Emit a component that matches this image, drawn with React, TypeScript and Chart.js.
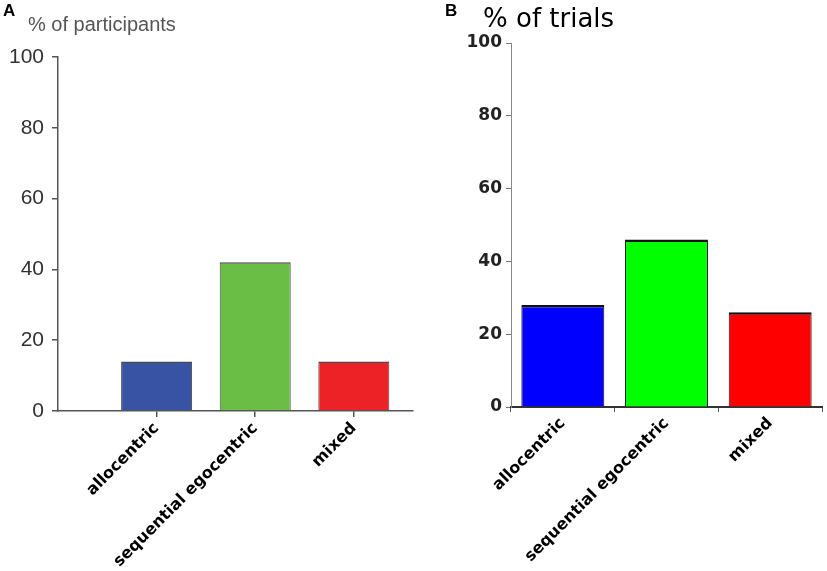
import React, { useEffect, useRef } from "react";
import { Chart, registerables } from "chart.js";

Chart.register(...registerables);

// ---- data ----
const categories = ["allocentric", "sequential egocentric", "mixed"];
const participantsPct = [14, 42, 14];
const trialsPct = [28, 46, 26];
const yTicks = [0, 20, 40, 60, 80, 100];
const colorsA = ["#3953a4", "#6abd45", "#ec2227"];
const colorsB = ["#0000ff", "#00ff00", "#ff0000"];
const titleA = "% of participants";
const titleB = "% of trials";
const panelA = "A";
const panelB = "B";

const W_A = 415;
const W_B = 412;
const H = 571;

function textPlugin(items: { text: string; x: number; y: number; font: string; color: string }[]) {
  return {
    id: "texts",
    afterDraw(chart: any) {
      const ctx = chart.ctx;
      ctx.save();
      ctx.textBaseline = "alphabetic";
      ctx.textAlign = "left";
      for (const it of items) {
        ctx.font = it.font;
        ctx.fillStyle = it.color;
        ctx.fillText(it.text, it.x, it.y);
      }
      ctx.restore();
    },
  };
}

export default function App() {
  const refA = useRef<HTMLCanvasElement>(null);
  const refB = useRef<HTMLCanvasElement>(null);

  useEffect(() => {
    document.body.style.margin = "0";
    const labelFont = { family: "'DejaVu Sans', sans-serif", size: 16, weight: "bold" as const };

    const chartA = new Chart(refA.current!, {
      type: "bar",
      data: {
        datasets: [
          {
            data: participantsPct.map((v, i) => ({ x: i + 1, y: v })),
            backgroundColor: colorsA,
            borderColor: "#4a4a4a",
            borderWidth: { top: 1.5, left: 1, right: 1, bottom: 0 },
            borderSkipped: false,
            categoryPercentage: 1,
            barPercentage: 0.72,
          },
        ],
      },
      options: {
        animation: false,
        responsive: false,
        layout: { padding: { top: 57, right: 2, left: 0, bottom: 0 } },
        plugins: { legend: { display: false }, tooltip: { enabled: false }, title: { display: false } },
        scales: {
          x: {
            type: "linear",
            min: 0,
            max: 3.6,
            offset: false,
            afterBuildTicks: (axis: any) => {
              axis.ticks = categories.map((_, i) => ({ value: i + 1 }));
            },
            afterFit: (scale: any) => {
              scale.height = 160;
            },
            ticks: {
              autoSkip: false,
              minRotation: 45,
              maxRotation: 45,
              color: "#000",
              font: labelFont,
              padding: 2,
              callback: (v: any) => categories[Math.round(Number(v)) - 1] ?? "",
            },
            grid: { display: true, drawOnChartArea: false, drawTicks: true, tickLength: 6, color: "#555", offset: false, lineWidth: 1.5 },
            border: { display: true, color: "#555", width: 1.5 },
          },
          y: {
            min: 0,
            max: 100,
            afterBuildTicks: (axis: any) => {
              axis.ticks = yTicks.map((v) => ({ value: v }));
            },
            afterFit: (scale: any) => {
              scale.width = 58;
            },
            ticks: {
              color: "#333",
              font: { family: "'Liberation Sans', Arial, sans-serif", size: 21 },
              padding: 8,
            },
            grid: { drawOnChartArea: false, drawTicks: true, tickLength: 6, color: "#555", lineWidth: 1.5 },
            border: { display: true, color: "#555", width: 1.5 },
          },
        },
      },
      plugins: [
        textPlugin([
          { text: panelA, x: 3, y: 16, font: "bold 17px 'Liberation Sans', Arial", color: "#000" },
          { text: titleA, x: 28, y: 31, font: "20px 'Liberation Sans', Arial", color: "#555" },
        ]),
      ],
    } as any);

    const chartB = new Chart(refB.current!, {
      type: "bar",
      data: {
        labels: categories,
        datasets: [
          {
            data: trialsPct,
            backgroundColor: colorsB,
            borderColor: "#111",
            borderWidth: { top: 2.5, left: 1, right: 1, bottom: 0 },
            borderSkipped: false,
            categoryPercentage: 1,
            barPercentage: 0.8,
          },
        ],
      },
      options: {
        animation: false,
        responsive: false,
        layout: { padding: { top: 43, right: 5, left: 0, bottom: 0 } },
        plugins: { legend: { display: false }, tooltip: { enabled: false }, title: { display: false } },
        scales: {
          x: {
            type: "category",
            offset: true,
            afterFit: (scale: any) => {
              scale.height = 164;
            },
            ticks: {
              autoSkip: false,
              minRotation: 45,
              maxRotation: 45,
              color: "#000",
              font: labelFont,
              padding: 2,
            },
            grid: { display: true, drawOnChartArea: false, drawTicks: true, tickLength: 5, color: "#555", offset: true },
            border: { display: true, color: "#333", width: 2 },
          },
          y: {
            min: 0,
            max: 100,
            afterBuildTicks: (axis: any) => {
              axis.ticks = yTicks.map((v) => ({ value: v }));
            },
            afterFit: (scale: any) => {
              scale.width = 96;
            },
            ticks: {
              color: "#222",
              font: { family: "'DejaVu Sans', sans-serif", size: 17, weight: "bold" },
              padding: 4,
            },
            grid: { drawOnChartArea: false, drawTicks: true, tickLength: 5, color: "#777" },
            border: { display: true, color: "#888", width: 1 },
          },
        },
      },
      plugins: [
        textPlugin([
          { text: panelB, x: 30, y: 16, font: "bold 17px 'Liberation Sans', Arial", color: "#000" },
          { text: titleB, x: 68, y: 27, font: "26px 'DejaVu Sans', sans-serif", color: "#000" },
        ]),
      ],
    } as any);

    return () => {
      chartA.destroy();
      chartB.destroy();
    };
  }, []);

  return (
    <div style={{ position: "fixed", left: 0, top: 0, width: W_A + W_B, height: H, background: "#fff" }}>
      <canvas ref={refA} width={W_A} height={H} style={{ position: "absolute", left: 0, top: 0, width: W_A, height: H }} />
      <canvas ref={refB} width={W_B} height={H} style={{ position: "absolute", left: W_A, top: 0, width: W_B, height: H }} />
    </div>
  );
}
